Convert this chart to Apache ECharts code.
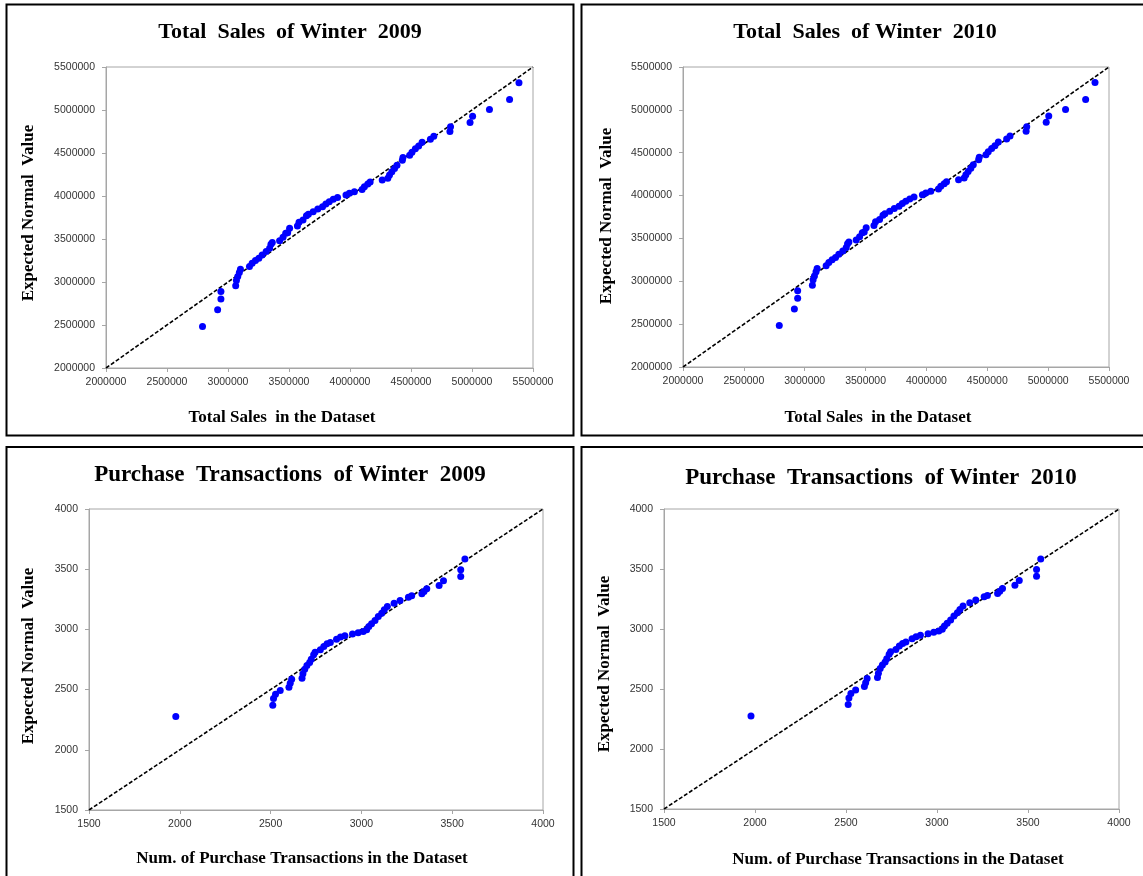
<!DOCTYPE html>
<html>
<head>
<meta charset="utf-8">
<script src="https://cdn.jsdelivr.net/npm/echarts@6/dist/echarts.min.js"></script>
<style>
html,body{margin:0;padding:0;background:#fff;}
#chart{width:1143px;height:876px;}
</style>
</head>
<body>
<div id="chart"></div>
<script>
// ---- Data ----
var titles = [
  'Total  Sales  of Winter  2009',
  'Total  Sales  of Winter  2010',
  'Purchase  Transactions  of Winter  2009',
  'Purchase  Transactions  of Winter  2010'
];
var xAxisNames = [
  'Total Sales  in the Dataset',
  'Total Sales  in the Dataset',
  'Num. of Purchase Transactions in the Dataset',
  'Num. of Purchase Transactions in the Dataset'
];
var yAxisName = 'Expected Normal  Value';

var salesRange = [2000000, 5500000];
var salesInterval = 500000;
var purchaseRange = [1500, 4000];
var purchaseInterval = 500;

var salesObserved2009 = [2791000,2915000,2942000,2942000,3063000,3069000,3080000,3093000,3102000,3176000,3198000,3225000,3253000,3280000,3313000,3341000,3352000,3363000,3423000,3451000,3473000,3489000,3505000,3569000,3582000,3615000,3643000,3659000,3698000,3736000,3775000,3802000,3830000,3863000,3898000,3967000,3995000,4036000,4099000,4118000,4146000,4165000,4264000,4310000,4324000,4343000,4365000,4385000,4429000,4434000,4489000,4508000,4536000,4563000,4591000,4659000,4687000,4819000,4824000,4984000,5005000,5143000,5308000,5385000];
var salesExpected2009 = [2484000,2677000,2801000,2890000,2955000,3017000,3063000,3110000,3149000,3180000,3219000,3250000,3277000,3315000,3354000,3393000,3439000,3459000,3481000,3520000,3567000,3574000,3625000,3652000,3694000,3721000,3771000,3787000,3818000,3849000,3876000,3907000,3934000,3961000,3984000,4011000,4031000,4050000,4077000,4108000,4139000,4162000,4185000,4205000,4243000,4282000,4320000,4359000,4417000,4448000,4475000,4510000,4549000,4580000,4626000,4661000,4696000,4750000,4804000,4854000,4928000,5005000,5121000,5318000];

var salesObserved2010 = [2791000,2915000,2942000,2942000,3063000,3069000,3080000,3093000,3102000,3176000,3198000,3225000,3253000,3280000,3313000,3341000,3352000,3363000,3423000,3451000,3473000,3489000,3505000,3569000,3582000,3615000,3643000,3659000,3698000,3736000,3775000,3802000,3830000,3863000,3898000,3967000,3995000,4036000,4099000,4118000,4146000,4165000,4264000,4310000,4324000,4343000,4365000,4385000,4429000,4434000,4489000,4508000,4536000,4563000,4591000,4659000,4687000,4819000,4824000,4984000,5005000,5143000,5308000,5385000];
var salesExpected2010 = [2484000,2677000,2801000,2890000,2955000,3017000,3063000,3110000,3149000,3180000,3219000,3250000,3277000,3315000,3354000,3393000,3439000,3459000,3481000,3520000,3567000,3574000,3625000,3652000,3694000,3721000,3771000,3787000,3818000,3849000,3876000,3907000,3934000,3961000,3984000,4011000,4031000,4050000,4077000,4108000,4139000,4162000,4185000,4205000,4243000,4282000,4320000,4359000,4417000,4448000,4475000,4510000,4549000,4580000,4626000,4661000,4696000,4750000,4804000,4854000,4928000,5005000,5121000,5318000];

var purchObserved2009 = [1978,2512,2516,2527,2553,2601,2608,2616,2673,2678,2688,2700,2715,2724,2737,2745,2774,2793,2811,2829,2863,2885,2909,2951,2982,3010,3029,3041,3056,3075,3093,3112,3126,3143,3180,3213,3259,3277,3333,3345,3360,3428,3452,3547,3547,3570];
var purchExpected2009 = [2276,2370,2426,2462,2492,2520,2553,2587,2595,2631,2670,2700,2725,2753,2789,2811,2830,2858,2880,2891,2919,2936,2947,2961,2972,2983,2997,3024,3047,3074,3108,3135,3163,3191,3218,3241,3268,3279,3296,3315,3338,3365,3404,3440,3496,3584];

var purchObserved2010 = [1978,2512,2516,2527,2553,2601,2608,2616,2673,2678,2688,2700,2715,2724,2737,2745,2774,2793,2811,2829,2863,2885,2909,2951,2982,3010,3029,3041,3056,3075,3093,3112,3126,3143,3180,3213,3259,3277,3333,3345,3360,3428,3452,3547,3547,3570];
var purchExpected2010 = [2276,2370,2426,2462,2492,2520,2553,2587,2595,2631,2670,2700,2725,2753,2789,2811,2830,2858,2880,2891,2919,2936,2947,2961,2972,2983,2997,3024,3047,3074,3108,3135,3163,3191,3218,3241,3268,3279,3296,3315,3338,3365,3404,3440,3496,3584];

// ---- Layout ----
function pairs(xs, ys){ return xs.map(function(v,i){ return [v, ys[i]]; }); }

var panels = [
  {obs: salesObserved2009, exp: salesExpected2009, range: salesRange, step: salesInterval,
   grid: {left:106, top:67, width:427, height:301},
   border: [6.5, 4.5, 567, 431], title: [290, 32], xname: [282, 418], yname: [29, 213]},
  {obs: salesObserved2010, exp: salesExpected2010, range: salesRange, step: salesInterval,
   grid: {left:683, top:67, width:426, height:300},
   border: [581.5, 4.5, 570, 431], title: [865, 32], xname: [878, 418], yname: [607, 216]},
  {obs: purchObserved2009, exp: purchExpected2009, range: purchaseRange, step: purchaseInterval,
   grid: {left:89, top:509, width:454, height:301},
   border: [6.5, 447, 567, 440], title: [290, 475], xname: [302, 859], yname: [29, 656]},
  {obs: purchObserved2010, exp: purchExpected2010, range: purchaseRange, step: purchaseInterval,
   grid: {left:664, top:509, width:455, height:300},
   border: [581.5, 447, 570, 440], title: [881, 478], xname: [898, 860], yname: [605, 664]}
];

var axisGrey = '#A6A6A6';
var labelStyle = {fontFamily: 'Liberation Sans', fontSize: 10.5, color: '#333333',
  formatter: function(v){ return String(v); }};

var grids = [], xAxes = [], yAxes = [], series = [], graphics = [];
panels.forEach(function(p, i){
  grids.push({left: p.grid.left, top: p.grid.top, width: p.grid.width, height: p.grid.height,
    show: true, borderColor: axisGrey, borderWidth: 1, backgroundColor: 'transparent'});
  var common = {
    type: 'value', gridIndex: i, min: p.range[0], max: p.range[1], interval: p.step,
    splitLine: {show: false},
    axisLine: {show: true, lineStyle: {color: axisGrey, width: 1}},
    axisTick: {show: true, length: 4, lineStyle: {color: axisGrey}}
  };
  xAxes.push(Object.assign({}, common, {
    axisLabel: Object.assign({margin: 9}, labelStyle)
  }));
  yAxes.push(Object.assign({}, common, {
    axisLabel: Object.assign({margin: 11}, labelStyle)
  }));
  series.push({
    type: 'line', xAxisIndex: i, yAxisIndex: i,
    data: [[p.range[0], p.range[0]], [p.range[1], p.range[1]]],
    symbol: 'none', silent: true, z: 2,
    lineStyle: {color: '#000', width: 1.6, type: [4, 2]}
  });
  series.push({
    type: 'scatter', xAxisIndex: i, yAxisIndex: i,
    data: pairs(p.obs, p.exp), symbol: 'circle', symbolSize: 7, z: 3,
    itemStyle: {color: '#0000FF', opacity: 1}
  });
  graphics.push({type: 'rect', shape: {x: p.border[0], y: p.border[1], width: p.border[2], height: p.border[3]},
    style: {fill: 'none', stroke: '#000', lineWidth: 2}, silent: true});
  graphics.push({type: 'text', x: p.title[0], y: p.title[1],
    style: {text: titles[i], font: 'bold ' + (i < 2 ? 22 : 23) + 'px "Liberation Serif"', fill: '#000',
      textAlign: 'center', textVerticalAlign: 'middle'}});
  graphics.push({type: 'text', x: p.xname[0], y: p.xname[1],
    style: {text: xAxisNames[i], font: 'bold 17px "Liberation Serif"', fill: '#000',
      textAlign: 'center', textVerticalAlign: 'middle'}});
  graphics.push({type: 'text', x: p.yname[0], y: p.yname[1], rotation: Math.PI / 2,
    style: {text: yAxisName, font: 'bold 17px "Liberation Serif"', fill: '#000',
      textAlign: 'center', textVerticalAlign: 'middle'}});
});

var chart = echarts.init(document.getElementById('chart'), null, {renderer: 'canvas'});
chart.setOption({
  backgroundColor: '#fff',
  animation: false,
  grid: grids,
  xAxis: xAxes,
  yAxis: yAxes,
  series: series,
  graphic: graphics
});
</script>
</body>
</html>
